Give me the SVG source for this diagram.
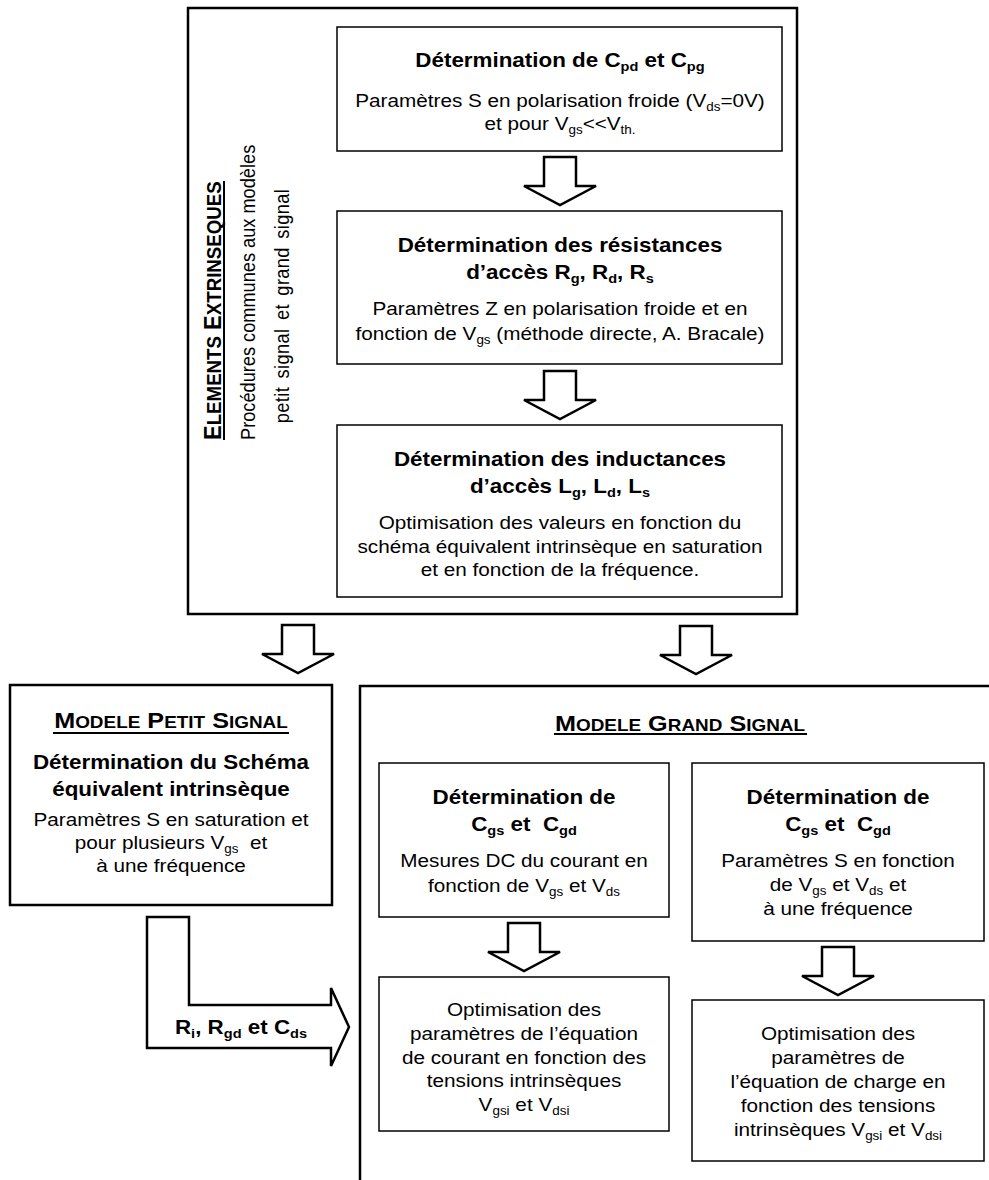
<svg xmlns="http://www.w3.org/2000/svg" xmlns:xlink="http://www.w3.org/1999/xlink" width="989" height="1180" viewBox="0 0 989 1180">
<style>
text{font-family:"Liberation Sans",Arial,Helvetica,sans-serif;fill:#000}
.b{font-weight:bold;font-size:20px;text-anchor:middle}
.r{font-size:18.5px;text-anchor:middle}
.h{font-weight:bold;font-size:22.5px;text-anchor:middle}
.sm{font-size:16.9px}
.s{font-size:12px}
.bs{font-size:13px}
.v{font-size:18.2px}
.vb{font-weight:bold;font-size:22px}
.box{fill:#fff;stroke:#000;stroke-width:1.5}
.thick{fill:none;stroke:#000;stroke-width:2.5}
.arr{fill:#fff;stroke:#000;stroke-width:2.5;stroke-linejoin:miter}
.ul{stroke:#000;stroke-width:2}
</style>
<defs>
<polygon id="dn" points="-16,0 16,0 16,29 36,29 0,48 -36,29 -16,29"/>
</defs>
<rect width="989" height="1180" fill="#fff"/>

<g id="extrinseques">
<rect class="thick" x="188" y="8" width="609" height="606"/>
<text class="vb" transform="translate(221,440) scale(1.12,1) rotate(-90)">E<tspan font-size="18.7">LEMENTS</tspan> E<tspan font-size="18.7">XTRINSEQUES</tspan></text>
<line class="ul" x1="224" y1="440" x2="224" y2="181"/>
<text class="v" transform="translate(255,440) scale(1.12,1) rotate(-90)">Procédures communes aux modèles</text>
<text class="v" text-anchor="middle" word-spacing="3" letter-spacing="0.4" transform="translate(289,306) scale(1.12,1) rotate(-90)">petit signal et grand signal</text>
</g>

<g id="box-cpd">
<rect class="box" x="337" y="27" width="445" height="124"/>
<text class="b" transform="translate(560,67) scale(1.12,1)">Détermination de C<tspan class="bs" dy="4">pd</tspan><tspan dy="-4"> et C</tspan><tspan class="bs" dy="4">pg</tspan></text>
<text class="r" transform="translate(560,107) scale(1.12,1)">Paramètres S en polarisation froide (V<tspan class="s" dy="4">ds</tspan><tspan dy="-4">=0V)</tspan></text>
<text class="r" transform="translate(560,130) scale(1.12,1)">et pour V<tspan class="s" dy="4">gs</tspan><tspan dy="-4">&lt;&lt;V</tspan><tspan class="s" dy="4">th.</tspan></text>
</g>

<g id="box-resistances">
<rect class="box" x="337" y="211" width="445" height="153"/>
<text class="b" transform="translate(560,252) scale(1.12,1)">Détermination des résistances</text>
<text class="b" transform="translate(560,279) scale(1.12,1)">d’accès R<tspan class="bs" dy="4">g</tspan><tspan dy="-4">, R</tspan><tspan class="bs" dy="4">d</tspan><tspan dy="-4">, R</tspan><tspan class="bs" dy="4">s</tspan></text>
<text class="r" transform="translate(560,315) scale(1.12,1)">Paramètres Z en polarisation froide et en</text>
<text class="r" transform="translate(560,340) scale(1.12,1)">fonction de V<tspan class="s" dy="4">gs</tspan><tspan dy="-4"> (méthode directe, A. Bracale)</tspan></text>
</g>

<g id="box-inductances">
<rect class="box" x="337" y="425" width="445" height="172"/>
<text class="b" transform="translate(560,466) scale(1.12,1)">Détermination des inductances</text>
<text class="b" transform="translate(560,493) scale(1.12,1)">d’accès L<tspan class="bs" dy="4">g</tspan><tspan dy="-4">, L</tspan><tspan class="bs" dy="4">d</tspan><tspan dy="-4">, L</tspan><tspan class="bs" dy="4">s</tspan></text>
<text class="r" transform="translate(560,529) scale(1.12,1)">Optimisation des valeurs en fonction du</text>
<text class="r" transform="translate(560,553) scale(1.12,1)">schéma équivalent intrinsèque en saturation</text>
<text class="r" transform="translate(560,576) scale(1.12,1)">et en fonction de la fréquence.</text>
</g>

<g id="petit-signal">
<rect class="thick" x="10" y="685" width="322" height="220"/>
<text class="h" transform="translate(171,728) scale(1.12,1)">M<tspan class="sm">ODELE</tspan> P<tspan class="sm">ETIT</tspan> S<tspan class="sm">IGNAL</tspan></text>
<line class="ul" x1="53" y1="733" x2="289" y2="733"/>
<text class="b" transform="translate(171,769) scale(1.12,1)">Détermination du Schéma</text>
<text class="b" transform="translate(171,796) scale(1.12,1)">équivalent intrinsèque</text>
<text class="r" transform="translate(171,826) scale(1.12,1)">Paramètres S en saturation et</text>
<text class="r" transform="translate(171,849) scale(1.12,1)">pour plusieurs V<tspan class="s" dy="4">gs</tspan><tspan dy="-4">&#160; et</tspan></text>
<text class="r" transform="translate(171,872) scale(1.12,1)">à une fréquence</text>
</g>

<g id="grand-signal">
<path class="thick" d="M360,1180 V686 H989"/>
<text class="h" transform="translate(680,731) scale(1.12,1)">M<tspan class="sm">ODELE</tspan> G<tspan class="sm">RAND</tspan> S<tspan class="sm">IGNAL</tspan></text>
<line class="ul" x1="554" y1="734" x2="807" y2="734"/>
</g>

<g id="box-dc">
<rect class="box" x="379" y="763" width="290" height="154"/>
<text class="b" transform="translate(524,804) scale(1.12,1)">Détermination de</text>
<text class="b" transform="translate(524,831) scale(1.12,1)">C<tspan class="bs" dy="4">gs</tspan><tspan dy="-4"> et &#160;C</tspan><tspan class="bs" dy="4">gd</tspan></text>
<text class="r" transform="translate(524,867) scale(1.12,1)">Mesures DC du courant en</text>
<text class="r" transform="translate(524,892) scale(1.12,1)">fonction de V<tspan class="s" dy="4">gs</tspan><tspan dy="-4"> et V</tspan><tspan class="s" dy="4">ds</tspan></text>
</g>

<g id="box-sparam">
<rect class="box" x="692" y="763" width="292" height="178"/>
<text class="b" transform="translate(838,804) scale(1.12,1)">Détermination de</text>
<text class="b" transform="translate(838,831) scale(1.12,1)">C<tspan class="bs" dy="4">gs</tspan><tspan dy="-4"> et &#160;C</tspan><tspan class="bs" dy="4">gd</tspan></text>
<text class="r" transform="translate(838,867) scale(1.12,1)">Paramètres S en fonction</text>
<text class="r" transform="translate(838,891) scale(1.12,1)">de V<tspan class="s" dy="4">gs</tspan><tspan dy="-4"> et V</tspan><tspan class="s" dy="4">ds</tspan><tspan dy="-4"> et</tspan></text>
<text class="r" transform="translate(838,915) scale(1.12,1)">à une fréquence</text>
</g>

<g id="box-courant">
<rect class="box" x="379" y="977" width="290" height="154"/>
<text class="r" transform="translate(524,1016) scale(1.12,1)">Optimisation des</text>
<text class="r" transform="translate(524,1040) scale(1.12,1)">paramètres de l’équation</text>
<text class="r" transform="translate(524,1064) scale(1.12,1)">de courant en fonction des</text>
<text class="r" transform="translate(524,1087) scale(1.12,1)">tensions intrinsèques</text>
<text class="r" transform="translate(524,1111) scale(1.12,1)">V<tspan class="s" dy="4">gsi</tspan><tspan dy="-4"> et V</tspan><tspan class="s" dy="4">dsi</tspan></text>
</g>

<g id="box-charge">
<rect class="box" x="692" y="1000" width="292" height="161"/>
<text class="r" transform="translate(838,1040) scale(1.12,1)">Optimisation des</text>
<text class="r" transform="translate(838,1064) scale(1.12,1)">paramètres de</text>
<text class="r" transform="translate(838,1088) scale(1.12,1)">l’équation de charge en</text>
<text class="r" transform="translate(838,1112) scale(1.12,1)">fonction des tensions</text>
<text class="r" transform="translate(838,1136) scale(1.12,1)">intrinsèques V<tspan class="s" dy="4">gsi</tspan><tspan dy="-4"> et V</tspan><tspan class="s" dy="4">dsi</tspan></text>
</g>

<g id="connectors">
<use xlink:href="#dn" class="arr" x="560" y="157"/>
<use xlink:href="#dn" class="arr" x="560" y="371"/>
<use xlink:href="#dn" class="arr" x="298" y="625"/>
<use xlink:href="#dn" class="arr" x="696" y="626"/>
<use xlink:href="#dn" class="arr" x="524" y="923"/>
<use xlink:href="#dn" class="arr" x="838" y="947"/>
<polygon class="arr" points="147,917 189,917 189,1005 331,1005 331,988 349,1027 331,1066 331,1048 147,1048"/>
<text class="b" transform="translate(241,1034) scale(1.12,1)">R<tspan class="bs" dy="4">i</tspan><tspan dy="-4">, R</tspan><tspan class="bs" dy="4">gd</tspan><tspan dy="-4"> et C</tspan><tspan class="bs" dy="4">ds</tspan></text>
</g>
</svg>
